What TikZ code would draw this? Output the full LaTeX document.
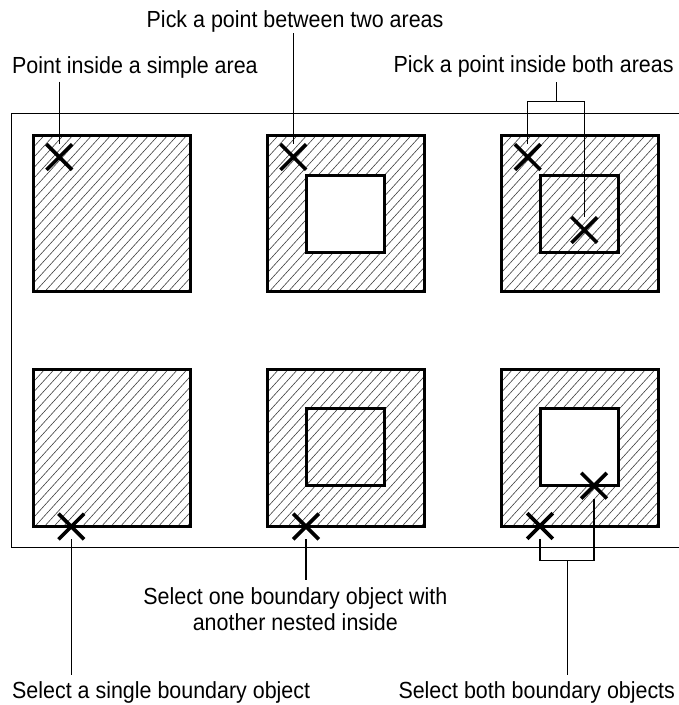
\documentclass[tikz,border=0pt]{standalone}
\usepackage{fontspec}
\setmainfont[FakeStretch=0.92]{Liberation Sans}
\usetikzlibrary{shapes.misc}
\newcommand\hatchsq[4]{%
  \begin{scope}
    \clip (#1,#2) rectangle (#3,#4);
    \foreach \k in {-18,...,18}
      \draw[hatchline] ({#1+\k*9.5},{#4+2}) -- ++(185,-203.5);
  \end{scope}}
\begin{document}
\begin{tikzpicture}[x=1pt,y=-1pt,
  frameline/.style={line width=1.2pt},
  leader/.style={line width=1.1pt},
  border/.style={line width=3pt},
  hatchline/.style={line width=0.6pt, black!75},
  xmark/.style={cross out, draw, line width=3.6pt, minimum size=22pt, inner sep=0pt},
  lbl/.style={font=\fontsize{23.3}{28}\selectfont, inner sep=0pt}]
\useasboundingbox (0,0) rectangle (679,705);

% frame
\draw[frameline] (679,113.3) -- (11.3,113.3) -- (11.3,547.3) -- (679,547.3);

% row 1
\hatchsq{33.5}{135}{190.5}{291.5}
\draw[border] (33.5,135) rectangle (190.5,291.5);

\hatchsq{267.5}{135}{424.5}{291.5}
\fill[white] (306,175) rectangle (384.5,252.5);
\draw[border] (267.5,135) rectangle (424.5,291.5);
\draw[border] (306,175) rectangle (384.5,252.5);

\hatchsq{501.5}{135}{658}{291.5}
\draw[border] (501.5,135) rectangle (658,291.5);
\draw[border] (540,175) rectangle (618.5,252.5);

% row 2
\hatchsq{33.5}{369.5}{190.5}{526}
\draw[border] (33.5,369.5) rectangle (190.5,526);

\hatchsq{267.5}{369.5}{424.5}{526}
\draw[border] (267.5,369.5) rectangle (424.5,526);
\draw[border] (306,408.7) rectangle (384.5,485.7);

\hatchsq{501.5}{369.5}{658}{526}
\fill[white] (540,408.7) rectangle (618.5,485.7);
\draw[border] (501.5,369.5) rectangle (658,526);
\draw[border] (540,408.7) rectangle (618.5,485.7);

% crosses
\node[xmark] (xa1) at (59.3,157) {};
\node[xmark] (xa2) at (293.3,157) {};
\node[xmark] (xa3a) at (527.7,157) {};
\node[xmark] (xa3b) at (584.3,230) {};
\node[xmark] (xb1) at (71.3,526.5) {};
\node[xmark] (xb2) at (306,526.5) {};
\node[xmark] (xb3a) at (540,526) {};
\node[xmark] (xb3b) at (594,485.7) {};

% labels
\node[lbl, anchor=base west] (t1) at (12,73) {Point inside a simple area};
\node[lbl, anchor=base west] (t2) at (146.5,27.5) {Pick a point between two areas};
\node[lbl, anchor=base west] (t3) at (393.3,72.5) {Pick a point inside both areas};
\node[lbl, anchor=base west] (t4) at (12,698) {Select a single boundary object};
\node[lbl, anchor=base] (t5a) at (295.3,604) {Select one boundary object with};
\node[lbl, anchor=base] (t5b) at (295.3,630) {another nested inside};
\node[lbl, anchor=base west] (t6) at (398.3,698) {Select both boundary objects};

% leader ends
\coordinate (c1) at (59.3,81.7);
\coordinate (c2) at (293.3,33);
\coordinate (c3) at (556.7,82);
\coordinate (j3) at (556.7,101.7);
\coordinate (c4) at (71.3,675);
\coordinate (c5) at (306,580);
\coordinate (j6) at (567.7,560.7);
\coordinate (c6) at (567.7,675);

% leaders
\draw[leader] (c1) -- (xa1.north);
\draw[leader] (c2) -- (xa2.north);
\draw[leader] (c3) -- (j3);
\draw[leader] (xa3a.north) |- (j3) -| (xa3b.north);
\draw[leader] (xb1.south) -- (c4);
\draw[leader] (xb2.south) -- (c5);
\draw[leader] (xb3a.south) |- (j6) -| (xb3b.south);
\draw[leader] (j6) -- (c6);
\end{tikzpicture}
\end{document}
